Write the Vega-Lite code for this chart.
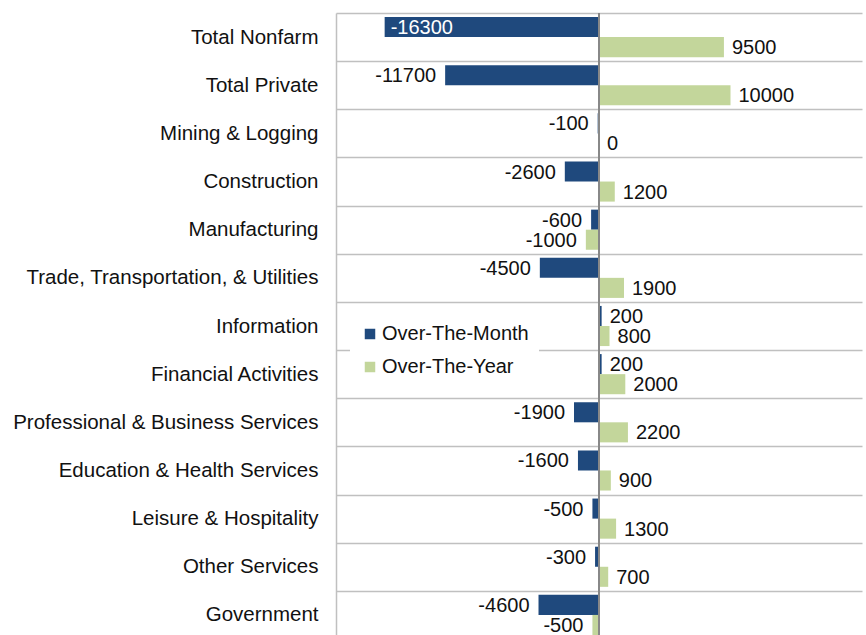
{
  "$schema": "https://vega.github.io/schema/vega-lite/v6.json",
  "autosize": {"type": "none"},
  "width": 526,
  "height": 622,
  "padding": {"left": 336, "top": 13, "right": 4, "bottom": 0},
  "background": "white",
  "config": {"view": {"stroke": null}, "font": "Liberation Sans"},
  "data": {
    "values": [
      {"category": "Total Nonfarm", "series": "Over-The-Month", "value": -16300},
      {"category": "Total Nonfarm", "series": "Over-The-Year", "value": 9500},
      {"category": "Total Private", "series": "Over-The-Month", "value": -11700},
      {"category": "Total Private", "series": "Over-The-Year", "value": 10000},
      {"category": "Mining & Logging", "series": "Over-The-Month", "value": -100},
      {"category": "Mining & Logging", "series": "Over-The-Year", "value": 0},
      {"category": "Construction", "series": "Over-The-Month", "value": -2600},
      {"category": "Construction", "series": "Over-The-Year", "value": 1200},
      {"category": "Manufacturing", "series": "Over-The-Month", "value": -600},
      {"category": "Manufacturing", "series": "Over-The-Year", "value": -1000},
      {"category": "Trade, Transportation, & Utilities", "series": "Over-The-Month", "value": -4500},
      {"category": "Trade, Transportation, & Utilities", "series": "Over-The-Year", "value": 1900},
      {"category": "Information", "series": "Over-The-Month", "value": 200},
      {"category": "Information", "series": "Over-The-Year", "value": 800},
      {"category": "Financial Activities", "series": "Over-The-Month", "value": 200},
      {"category": "Financial Activities", "series": "Over-The-Year", "value": 2000},
      {"category": "Professional & Business Services", "series": "Over-The-Month", "value": -1900},
      {"category": "Professional & Business Services", "series": "Over-The-Year", "value": 2200},
      {"category": "Education & Health Services", "series": "Over-The-Month", "value": -1600},
      {"category": "Education & Health Services", "series": "Over-The-Year", "value": 900},
      {"category": "Leisure & Hospitality", "series": "Over-The-Month", "value": -500},
      {"category": "Leisure & Hospitality", "series": "Over-The-Year", "value": 1300},
      {"category": "Other Services", "series": "Over-The-Month", "value": -300},
      {"category": "Other Services", "series": "Over-The-Year", "value": 700},
      {"category": "Government", "series": "Over-The-Month", "value": -4600},
      {"category": "Government", "series": "Over-The-Year", "value": -500}
    ]
  },
  "encoding": {
    "y": {
      "field": "category",
      "type": "nominal",
      "sort": null,
      "scale": {"paddingInner": 0, "paddingOuter": 0, "range": [0, 626]},
      "axis": {
        "title": null,
        "tickBand": "extent",
        "grid": true,
        "gridColor": "#C0C0C0",
        "gridWidth": 1.5,
        "domain": true,
        "domainColor": "#C0C0C0",
        "domainWidth": 1.5,
        "ticks": false,
        "tickSize": 0,
        "labelPadding": 18,
        "labelFontSize": 20.5,
        "labelColor": "#111111",
        "labelLimit": 400
      }
    },
    "yOffset": {
      "field": "series",
      "type": "nominal",
      "sort": ["Over-The-Month", "Over-The-Year"],
      "scale": {"paddingOuter": 0.2, "paddingInner": 0}
    },
    "x": {
      "field": "value",
      "type": "quantitative",
      "scale": {"domain": [-20000, 20000], "nice": false, "zero": true},
      "axis": null
    }
  },
  "layer": [
    {
      "mark": {"type": "bar"},
      "encoding": {
        "color": {
          "field": "series",
          "type": "nominal",
          "scale": {"domain": ["Over-The-Month", "Over-The-Year"], "range": ["#1F497D", "#C3D69B"]},
          "legend": {
            "title": null,
            "orient": "none",
            "legendX": 14,
            "legendY": 301,
            "fillColor": "white",
            "padding": 10,
            "symbolType": "square",
            "symbolSize": 110,
            "symbolStrokeWidth": 0,
            "labelFontSize": 20,
            "labelColor": "#111111",
            "labelOffset": 2,
            "rowPadding": 13
          }
        }
      }
    },
    {
      "transform": [{"filter": "datum.value < 0 && datum.value > -15000"}],
      "mark": {"type": "text", "align": "right", "baseline": "middle", "dx": -9, "dy": 1, "fontSize": 20, "color": "#111111"},
      "encoding": {"text": {"field": "value", "type": "nominal"}}
    },
    {
      "transform": [{"filter": "datum.value >= 0"}],
      "mark": {"type": "text", "align": "left", "baseline": "middle", "dx": 8, "dy": 1, "fontSize": 20, "color": "#111111"},
      "encoding": {"text": {"field": "value", "type": "nominal"}}
    },
    {
      "transform": [{"filter": "datum.value <= -15000"}],
      "mark": {"type": "text", "align": "left", "baseline": "middle", "dx": 6, "dy": 1, "fontSize": 20, "color": "white"},
      "encoding": {"text": {"field": "value", "type": "nominal"}}
    },
    {
      "data": {"values": [{"zero": 0}]},
      "mark": {"type": "rule", "color": "#888888", "strokeWidth": 2},
      "encoding": {
        "x": {"field": "zero", "type": "quantitative"},
        "y": {"value": 0},
        "y2": {"value": 640},
        "yOffset": null
      }
    }
  ]
}
